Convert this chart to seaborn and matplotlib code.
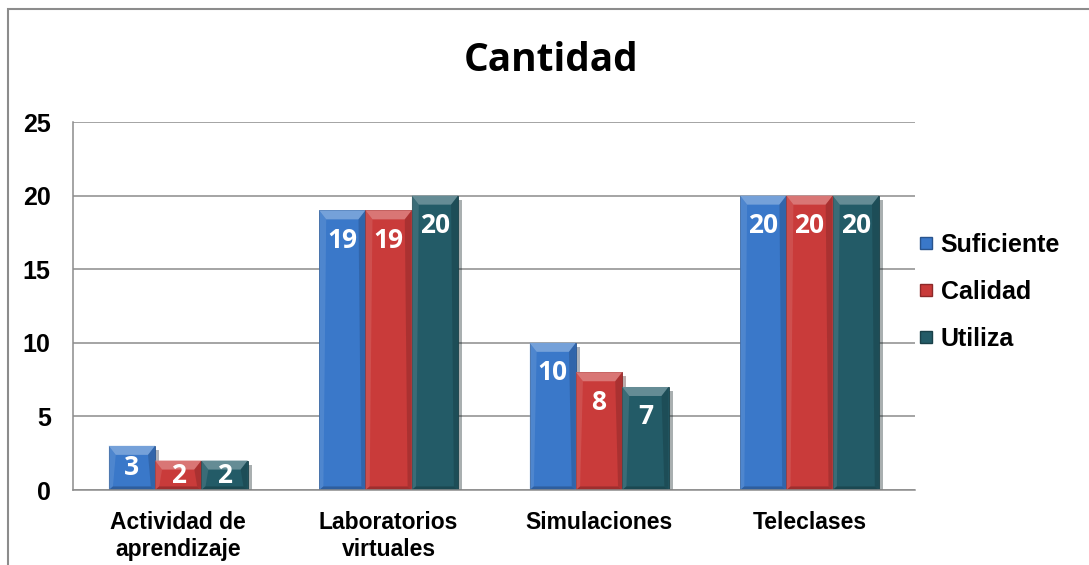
import matplotlib.pyplot as plt
import matplotlib.patheffects as pe
from matplotlib.colors import to_rgb
from matplotlib.lines import Line2D
from matplotlib.patches import Polygon, Rectangle
import numpy as np
import pandas as pd
import seaborn as sns

categorias = ["Actividad de\naprendizaje", "Laboratorios\nvirtuales", "Simulaciones", "Teleclases"]
series = ["Suficiente", "Calidad", "Utiliza"]
suficiente = [3, 19, 10, 20]
calidad = [2, 19, 8, 20]
utiliza = [2, 20, 7, 20]
colores = ["#3A78C9", "#C93B3A", "#235B67"]

df = pd.DataFrame({
    "categoria": categorias * 3,
    "serie": np.repeat(series, 4),
    "valor": suficiente + calidad + utiliza,
})

sns.set_style("white")
plt.rcParams["font.family"] = ["Liberation Sans", "DejaVu Sans"]
plt.rcParams["text.color"] = "black"
plt.rcParams["xtick.labelcolor"] = "black"
plt.rcParams["ytick.labelcolor"] = "black"

fig = plt.figure(figsize=(10.89, 5.65), dpi=100)
ax = fig.add_axes([0.067, 0.1327, 0.773, 0.6513])

sns.barplot(data=df, x="categoria", y="valor", hue="serie", palette=colores,
            width=0.66, gap=0, saturation=1, ax=ax, legend=False)

ax.set_ylim(0, 25)
ax.set_xlim(-0.5, 3.5)
ax.set_yticks(range(0, 26, 5))
ax.yaxis.grid(True, color="#8C8C8C", linewidth=1.1)
ax.set_axisbelow(True)
ax.set_xlabel("")
ax.set_ylabel("")
for s in ["top", "right"]:
    ax.spines[s].set_visible(False)
for s in ["left", "bottom"]:
    ax.spines[s].set_color("#8C8C8C")
    ax.spines[s].set_linewidth(1.1)

ax.tick_params(axis="y", length=8, width=1.1, color="#8C8C8C", direction="out",
               labelsize=18, pad=8)
ax.tick_params(axis="x", which="major", length=0, labelsize=16.5, pad=15)
ax.set_xticks(np.arange(-0.5, 4, 1), minor=True)
ax.tick_params(axis="x", which="minor", length=7, width=1.1, color="#8C8C8C", direction="out")
for lab in ax.get_yticklabels() + ax.get_xticklabels():
    lab.set_fontweight("bold")
for lab in ax.get_xticklabels():
    lab.set_linespacing(1.25)

# bisel y sombra de las barras
px = ax.transData.transform((0, 1))[1] - ax.transData.transform((0, 0))[1]
ux = 1 / (ax.transData.transform((1, 0))[0] - ax.transData.transform((0, 0))[0])
uy = 1 / px
bars = [p for p in ax.patches if isinstance(p, Rectangle) and p.get_height() > 0]
for p in bars:
    x, y, w, h = p.get_x(), p.get_y(), p.get_width(), p.get_height()
    base = np.array(to_rgb(p.get_facecolor()))
    light = np.clip(base + (1 - base) * 0.3, 0, 1)
    dark = base * 0.7
    p.set_edgecolor(dark)
    p.set_linewidth(0.6)
    p.set_path_effects([pe.SimplePatchShadow(offset=(3, -3), alpha=0.35), pe.Normal()])
    bx, by = 7 * ux, 9 * uy
    z = p.get_zorder() + 0.1
    top = Polygon([(x, y + h), (x + w, y + h), (x + w - bx, y + h - by), (x + bx, y + h - by)],
                  closed=True, facecolor=light, edgecolor="none", zorder=z)
    right = Polygon([(x + w, y + h), (x + w, y), (x + w - bx * 0.6, y + by * 0.4),
                     (x + w - bx, y + h - by)],
                    closed=True, facecolor=dark, alpha=0.5, edgecolor="none", zorder=z)
    left = Polygon([(x, y + h), (x, y), (x + bx * 0.6, y + by * 0.4), (x + bx, y + h - by)],
                   closed=True, facecolor=light, alpha=0.35, edgecolor="none", zorder=z)
    bottom = Polygon([(x, y), (x + w, y), (x + w - bx * 0.6, y + by * 0.4), (x + bx * 0.6, y + by * 0.4)],
                     closed=True, facecolor=dark, alpha=0.7, edgecolor="none", zorder=z)
    for poly in (top, right, left, bottom):
        ax.add_patch(poly)
    ytxt = max(h - 30 * uy, h / 2)
    ax.text(x + w / 2, ytxt, f"{h:.0f}", ha="center", va="center", color="white",
            fontsize=19, fontweight="bold", family=["Open Sans", "DejaVu Sans"],
            zorder=p.get_zorder() + 1)

handles = [Line2D([], [], marker="s", linestyle="none", markersize=9, markerfacecolor=c,
                  markeredgecolor=np.array(to_rgb(c)) * 0.7) for c in colores]
leg = fig.legend(handles, series, loc="center left", bbox_to_anchor=(0.843, 0.4835),
                 frameon=False, handlelength=0.6, handletextpad=0.3, labelspacing=0.92,
                 borderpad=0, borderaxespad=0, prop={"size": 18, "weight": "bold"})

fig.text(0.506, 0.893, "Cantidad", ha="center", va="center", fontsize=28,
         fontweight="bold", family=["Open Sans", "DejaVu Sans"])

fig.add_artist(Rectangle((8 / 1089, -0.1), 1.2, 1 - 9 / 565 + 0.1, transform=fig.transFigure,
                         fill=False, edgecolor="#8C8C8C", linewidth=1.5))

fig.savefig("out.png", dpi=100)
